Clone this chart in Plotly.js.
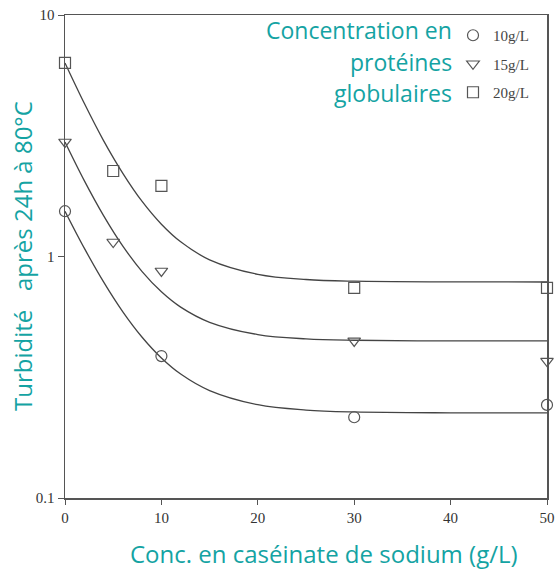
<!DOCTYPE html>
<html>
<head>
<meta charset="utf-8">
<script src="https://cdn.plot.ly/plotly-3.0.1.min.js"></script>
<style>html,body{margin:0;padding:0;background:#fff;}#chart{width:557px;height:571px;}</style>
</head>
<body>
<div id="chart"></div>
<script>
// Measured data points (turbidity vs sodium caseinate concentration)
const x10 = [0, 10, 30, 50];
const y10 = [1.54, 0.387, 0.216, 0.243];
const x15 = [0, 5, 10, 30, 50];
const y15 = [2.98, 1.148, 0.871, 0.447, 0.369];
const x20 = [0, 5, 10, 30, 50];
const y20 = [6.33, 2.26, 1.96, 0.741, 0.741];

// Fitted curves, values
const fitX = [0, 2, 4, 6, 8, 10, 12, 15, 20, 25, 30, 40, 50];
const fitY10 = [1.54, 1.083, 0.785, 0.590, 0.463, 0.380, 0.326, 0.2785, 0.2434, 0.2313, 0.2272, 0.2253, 0.225];
const fitY15 = [2.98, 2.062, 1.477, 1.104, 0.866, 0.714, 0.617, 0.534, 0.475, 0.456, 0.450, 0.447, 0.447];
const fitY20 = [6.33, 4.31, 3.02, 2.21, 1.69, 1.36, 1.15, 0.969, 0.844, 0.803, 0.790, 0.785, 0.784];

const seriesNames = ['10g/L', '15g/L', '20g/L'];
const xTicks = [0, 10, 20, 30, 40, 50];
const yTicks = [0.1, 1, 10];
const yTickText = ['0.1', '1', '10'];
const legendTitleLines = ['Concentration en', 'protéines', 'globulaires'];
const xTitle = 'Conc. en caséinate de sodium (g/L)';
const yTitle = 'Turbidité\u00a0\u00a0 après 24h à 80°C';

const ink = '#555555';
const teal = '#14a3a3';
const sans = '"Open Sans", Lato, sans-serif';

function fit(x, y) {
  return {x: x, y: y, mode: 'lines', type: 'scatter', showlegend: false, hoverinfo: 'skip',
    line: {color: '#444', width: 1.3, shape: 'spline', smoothing: 1.0}, cliponaxis: false};
}
function pts(x, y, sym, name, grp) {
  return {x: x, y: y, mode: 'markers', type: 'scatter', name: name, legendgroup: grp,
    marker: {symbol: sym, size: 11, color: ink, line: {color: ink, width: 1.2}},
    cliponaxis: false};
}

const data = [
  fit(fitX, fitY10), fit(fitX, fitY15), fit(fitX, fitY20),
  pts(x10, y10, 'circle-open', seriesNames[0], 'a'),
  pts(x15, y15, 'triangle-down-open', seriesNames[1], 'b'),
  pts(x20, y20, 'square-open', seriesNames[2], 'c')
];

const annFont = {family: sans, size: 23, color: teal};
const annY = [30, 62, 93];
const annotations = legendTitleLines.map((t, i) => ({
  text: t, xref: 'paper', yref: 'paper', x: (454 - 65) / 482, y: (498 - annY[i]) / 483,
  xanchor: 'right', yanchor: 'middle', showarrow: false, font: annFont
}));
annotations.push({
  text: xTitle, xref: 'paper', yref: 'paper', x: (324 - 65) / 482, y: (498 - 553) / 483,
  xanchor: 'center', yanchor: 'middle', showarrow: false,
  font: {family: sans, size: 24, color: teal}
});
annotations.push({
  text: yTitle, xref: 'paper', yref: 'paper', x: (22 - 65) / 482, y: (498 - 256) / 483,
  xanchor: 'center', yanchor: 'middle', showarrow: false, textangle: -90,
  font: {family: sans, size: 24, color: teal}
});

const layout = {
  width: 557, height: 571,
  margin: {l: 65, r: 10, t: 15, b: 73},
  paper_bgcolor: '#fff', plot_bgcolor: '#fff',
  showlegend: true,
  legend: {x: (453 - 65) / 482, xanchor: 'left', y: (498 - 19) / 483, yanchor: 'top',
    bgcolor: 'rgba(0,0,0,0)', tracegroupgap: 6, traceorder: 'grouped',
    font: {family: '"Liberation Serif", "DejaVu Serif", serif', size: 15, color: '#444'}},
  xaxis: {range: [0, 50], tickvals: xTicks, ticks: 'outside', ticklen: 5, tickcolor: ink,
    showline: true, linecolor: ink, linewidth: 1.5, mirror: true, showgrid: false, zeroline: false,
    tickfont: {family: '"Liberation Serif", serif', size: 15, color: '#333'}},
  yaxis: {type: 'log', range: [-1, 1], tickvals: yTicks, ticktext: yTickText, ticks: 'outside',
    ticklen: 6, tickcolor: ink, showline: true, linecolor: ink, linewidth: 1.5, mirror: true,
    showgrid: false, zeroline: false,
    tickfont: {family: '"Liberation Serif", serif', size: 15, color: '#333'}},
  annotations: annotations
};

Plotly.newPlot('chart', data, layout, {staticPlot: true});
</script>
</body>
</html>
